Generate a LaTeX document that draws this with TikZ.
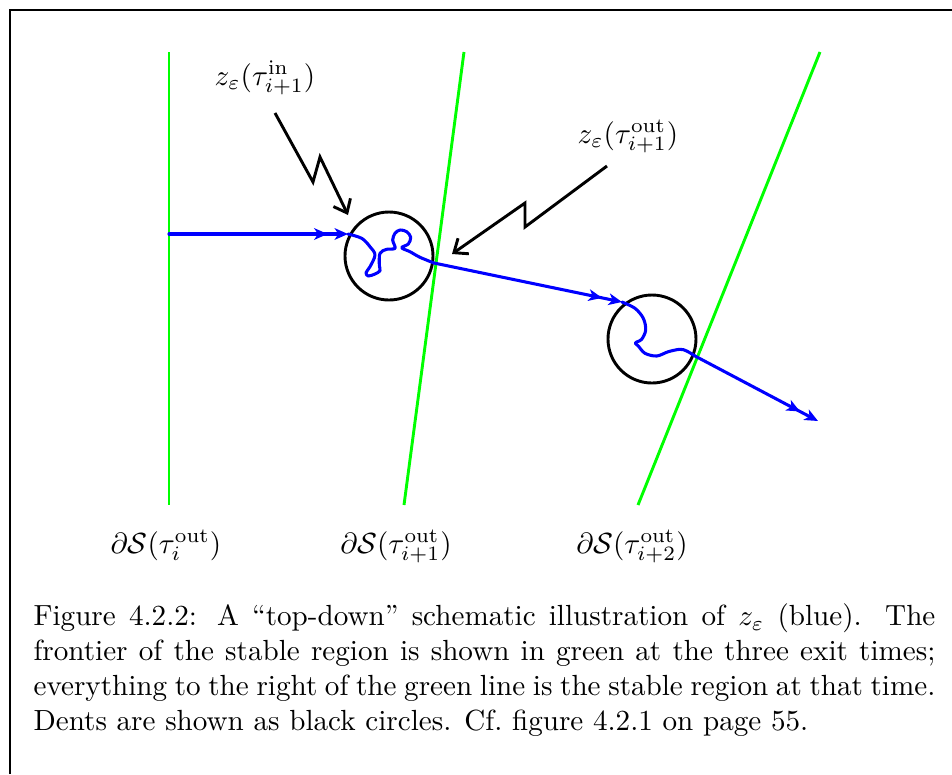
\documentclass[tikz,border=0pt]{standalone}
\usetikzlibrary{arrows.meta}
\begin{document}
\begin{tikzpicture}[x=0.3433pt,y=-0.3433pt,
  frontier/.style={draw=green, line width=1pt},
  pathline/.style={draw=blue, line width=1.05pt, line join=round, line cap=round},
  dblarrow/.style={-{Stealth[length=4.6pt,width=4pt,inset=1.3pt,sep=2.4pt]Stealth[length=4.6pt,width=4pt,inset=1.3pt]}},
  dent/.style={draw=black, line width=1pt},
  pointer/.style={draw=black, line width=1pt, -{Straight Barb[length=4pt,width=6.5pt]}},
  lbl/.style={anchor=base, inner sep=0pt}]
\useasboundingbox (0,0) rectangle (952,774);
% frame
\draw[line width=0.85pt] (10,774) -- (10,10) -- (952,10);
% frontiers
\coordinate (f1t) at (169,52); \coordinate (f1b) at (169,505);
\coordinate (f2t) at (464,52); \coordinate (f2b) at (404,505);
\coordinate (f3t) at (820,52); \coordinate (f3b) at (638,505);
\draw[frontier] (f1t) -- (f1b);
\draw[frontier] (f2t) -- (f2b);
\draw[frontier] (f3t) -- (f3b);
% dents
\coordinate (c1) at (389,256);
\coordinate (c2) at (652,339);
\draw[dent] (c1) circle[radius=44];
\draw[dent] (c2) circle[radius=44];
% blue path
\coordinate (p0) at (169,234);
\coordinate (p1) at (348,234);
\coordinate (p2) at (434,263);
\coordinate (p3) at (622,302);
\coordinate (p4) at (695,356);
\coordinate (p5) at (818,421);
\draw[pathline,dblarrow] (p0) -- (p1);
\draw[pathline] plot[smooth,tension=0.55] coordinates {(348,234) (361.7,238.3) (370,246.7) (375,255) (370,266.7) (366,272.7) (368.3,276) (375,274) (380,270.7) (379.3,265) (380,253.3) (386.7,249.3) (395,248.3) (392.7,240) (395,233.3) (400,230) (406.7,231.7) (410.7,237.3) (408.3,244) (401.7,247.7) (410,251.7) (420,257.3) (434,263)};
\draw[pathline,dblarrow] (p2) -- (p3);
\draw[pathline] plot[smooth,tension=0.55] coordinates {(622,302) (635,308.3) (643.3,318.3) (645.7,330) (641.7,339.3) (637.3,341.7) (635.3,343.3) (638.3,346) (645,353.3) (656.7,356) (668.3,351.7) (680,349.3) (686.7,351) (695,356)};
\draw[pathline,dblarrow] (p4) -- (p5);
% labels
\node[lbl] (lin) at (265,85) {$z_\varepsilon(\tau_{i+1}^{\mathrm{in}})$};
\node[lbl] (lout) at (628,143) {$z_\varepsilon(\tau_{i+1}^{\mathrm{out}})$};
\node[lbl] (b1) at (166,553) {$\partial\mathcal{S}(\tau_{i}^{\mathrm{out}})$};
\node[lbl] (b2) at (396,553) {$\partial\mathcal{S}(\tau_{i+1}^{\mathrm{out}})$};
\node[lbl] (b3) at (632,553) {$\partial\mathcal{S}(\tau_{i+2}^{\mathrm{out}})$};
% pointers
\coordinate (a1s) at (275,113); \coordinate (a1e) at (348,215);
\draw[pointer] (a1s) -- (313,182) -- (320,157) -- (a1e);
\coordinate (a2s) at (607,166); \coordinate (a2e) at (452,254);
\draw[pointer] (a2s) -- (525,227) -- (525,203) -- (a2e);
% caption
\node[anchor=north west, inner sep=0pt, text width=309.6pt, align=justify] (cap) at (33,603.2)
{Figure 4.2.2: A ``top-down'' schematic illustration of $z_\varepsilon$ (blue). The\linebreak frontier of the stable region is shown in green at the three exit times;\linebreak everything to the right of the green line is the stable region at that time.\linebreak Dents are shown as black circles. Cf.\ figure 4.2.1 on page 55.};
\end{tikzpicture}
\end{document}
